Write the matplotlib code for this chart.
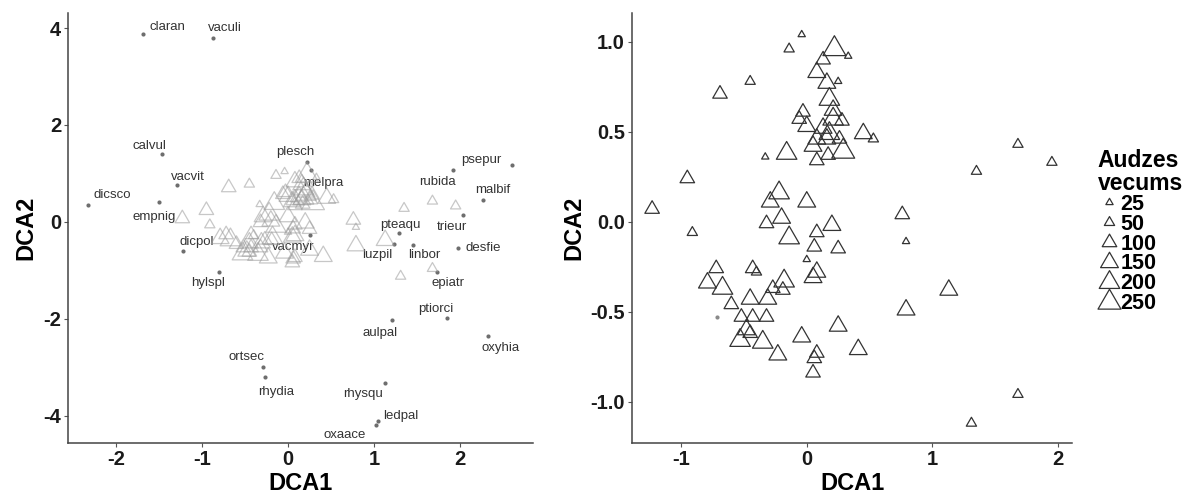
import numpy as np
from matplotlib import pyplot as plt
from matplotlib.lines import Line2D
from matplotlib.path import Path

plt.rcParams["font.family"] = ["Liberation Sans", "DejaVu Sans"]
plt.rcParams["axes.unicode_minus"] = False

# species scores (left panel)
SPECIES = ["claran", "vaculi", "calvul", "vacvit", "dicsco", "empnig", "dicpol", "hylspl",
           "ortsec", "rhydia", "aulpal", "ptiorci", "oxyhia", "rhysqu", "ledpal", "oxaace",
           "desfie", "epiatr", "luzpil", "linbor", "pteaqu", "trieur", "rubida", "psepur",
           "malbif", "plesch", "melpra", "vacmyr"]
SP_DCA1 = [-1.69, -0.87, -1.47, -1.29, -2.33, -1.50, -1.22, -0.80,
           -0.29, -0.27, 1.21, 1.85, 2.33, 1.13, 1.05, 1.02,
           1.98, 1.73, 1.23, 1.45, 1.29, 2.03, 1.92, 2.60,
           2.27, 0.22, 0.27, 0.26]
SP_DCA2 = [3.88, 3.79, 1.40, 0.76, 0.35, 0.41, -0.60, -1.03,
           -2.99, -3.20, -2.02, -1.98, -2.35, -3.32, -4.10, -4.19,
           -0.54, -1.03, -0.45, -0.47, -0.23, 0.14, 1.07, 1.18,
           0.45, 1.24, 1.07, -0.27]

# site scores and stand age (Audzes vecums)
SITE_DCA1 = [-1.23, -0.95, -0.91, -0.69, -0.45, -0.14, -0.04, 0.22, 0.13, 0.33,
             0.08, 0.16, 0.25, 0.18, -0.03, 0.00, 0.21, 0.21, 0.13, 0.18,
             0.28, 0.08, 0.16, 0.26, 0.05, 0.29, 0.08, 0.17, 0.45, 0.53,
             -0.16, -0.33, -0.06,
             -0.22, -0.29, 0.00, -0.32, -0.20, -0.14, 0.08, 0.20, 0.06, 0.25,
             0.00, -0.72, -0.43, -0.40, 0.08, 0.05, -0.79, -0.67, -0.60, -0.45,
             -0.27, -0.18, -0.19, -0.31, -0.52, -0.43, -0.32, -0.48, -0.45, -0.53,
             -0.35, -0.23, -0.04, 0.25, 0.08, 0.06, 0.05, 0.41,
             1.68, 1.95, 1.35, 0.76, 0.79, 1.13, 0.79, 1.68, 1.31, -0.71]
SITE_DCA2 = [0.07, 0.24, -0.06, 0.71, 0.78, 0.96, 1.04, 0.96, 0.90, 0.92,
             0.83, 0.77, 0.78, 0.68, 0.61, 0.53, 0.62, 0.57, 0.52, 0.49,
             0.56, 0.46, 0.46, 0.46, 0.42, 0.39, 0.34, 0.37, 0.49, 0.46,
             0.38, 0.36, 0.57,
             0.16, 0.11, 0.11, -0.01, 0.02, -0.09, -0.06, -0.02, -0.14, -0.15,
             -0.21, -0.26, -0.26, -0.28, -0.28, -0.31, -0.34, -0.37, -0.46, -0.43,
             -0.37, -0.33, -0.38, -0.43, -0.53, -0.53, -0.53, -0.60, -0.62, -0.66,
             -0.67, -0.74, -0.64, -0.58, -0.73, -0.76, -0.84, -0.71,
             0.43, 0.33, 0.28, 0.04, -0.11, -0.38, -0.49, -0.96, -1.12, -0.53]
SITE_AGE = [100, 100, 50, 100, 50, 50, 25, 250, 100, 25,
            150, 150, 25, 200, 100, 150, 150, 200, 150, 200,
            100, 150, 150, 100, 150, 250, 100, 100, 150, 50,
            200, 25, 100,
            200, 150, 150, 100, 150, 200, 100, 150, 100, 100,
            25, 100, 100, 50, 150, 150, 150, 200, 100, 150,
            100, 200, 100, 150, 100, 100, 100, 150, 100, 200,
            200, 150, 150, 150, 100, 100, 100, 150,
            50, 50, 50, 100, 25, 150, 150, 50, 50, np.nan]

LEGEND_AGES = [25, 50, 100, 150, 200, 250]

# label offsets in pixels (dx, dy) from each species point
LABEL_OFFSETS = [(25, 7), (12, 10), (-12, 8), (11, 8), (24, 10), (-5, -15), (14, 9), (-11, -11),
                 (-17, 10), (11, -15), (-12, -13), (-11, 9), (12, -12), (-22, -11), (22, 5), (-31, -10),
                 (25, 0), (11, -11), (-17, -11), (12, -10), (1, 8), (-11, -12), (-16, -12), (-30, 5),
                 (10, 10), (-12, 10), (12, -13), (-17, -12)]

TRI = Path([(-1, -0.577), (1, -0.577), (0, 1.155), (-1, -0.577)], closed=True)
SIZE_K = 1.46

W, H = 1193, 499
fig = plt.figure(figsize=(W / 100, H / 100), dpi=100)
ax1 = fig.add_axes([68 / W, 56 / H, 465 / W, 430 / H])
ax2 = fig.add_axes([632 / W, 56 / H, 440 / W, 430 / H])

age = np.array(SITE_AGE, dtype=float)
x = np.array(SITE_DCA1)
y = np.array(SITE_DCA2)
ok = ~np.isnan(age)

# left: species + sites in light grey
ax1.scatter(SP_DCA1, SP_DCA2, s=9, color="#6e6e6e", linewidths=0, zorder=2)
for name, sx, sy, (dx, dy) in zip(SPECIES, SP_DCA1, SP_DCA2, LABEL_OFFSETS):
	ax1.annotate(name, (sx, sy), xytext=(dx, dy), textcoords="offset pixels",
	             ha="center", va="center", fontsize=9.5, color="#333333", zorder=3)
ax1.scatter(x[ok], y[ok], s=age[ok] * SIZE_K, marker=TRI, facecolors="none",
            edgecolors="#9a9a9a", linewidths=0.9, alpha=0.55, zorder=4)
ax1.set_xlim(-2.56, 2.85)
ax1.set_ylim(-4.56, 4.31)
ax1.set_xticks([-2, -1, 0, 1, 2])
ax1.set_yticks([-4, -2, 0, 2, 4])

# right: sites sized by stand age
ax2.scatter(x[ok], y[ok], s=age[ok] * SIZE_K, marker=TRI, facecolors="none",
            edgecolors="#333333", linewidths=0.9, zorder=3)
ax2.scatter(x[~ok], y[~ok], s=9, color="#8a8a8a", linewidths=0, zorder=3)
ax2.set_xlim(-1.39, 2.11)
ax2.set_ylim(-1.23, 1.16)
ax2.set_xticks([-1, 0, 1, 2])
ax2.set_yticks([-1.0, -0.5, 0.0, 0.5, 1.0])
ax2.set_yticklabels(["-1.0", "-0.5", "0.0", "0.5", "1.0"])

for ax in (ax1, ax2):
	for side in ("top", "right"):
		ax.spines[side].set_visible(False)
	for side in ("left", "bottom"):
		ax.spines[side].set_color("#444444")
		ax.spines[side].set_linewidth(1.1)
	ax.tick_params(length=3, width=0.8, color="#555555", labelsize=14.5, labelcolor="#1a1a1a", pad=2)
	for lab in ax.get_xticklabels() + ax.get_yticklabels():
		lab.set_fontweight("bold")
	ax.set_xlabel("DCA1", fontsize=17, fontweight="bold", labelpad=2)
	ax.set_ylabel("DCA2", fontsize=17, fontweight="bold", labelpad=4)

handles = [Line2D([], [], ls="", marker=TRI, markersize=np.sqrt(a * SIZE_K), mfc="none",
                  mec="#333333", mew=0.9) for a in LEGEND_AGES]
leg = fig.legend(handles, [str(a) for a in LEGEND_AGES], title="Audzes\nvecums",
                 loc="upper left", bbox_to_anchor=(1087 / W, 1 - 138 / H), frameon=False,
                 fontsize=15.5, labelspacing=-0.05, handletextpad=0.05, handlelength=1.0,
                 borderpad=0, alignment="left")
leg.get_title().set_fontweight("bold")
leg.get_title().set_fontsize(16.5)
leg.get_title().set_linespacing(1.0)
for t in leg.get_texts():
	t.set_fontweight("bold")

fig.savefig("out.png", dpi=100)
